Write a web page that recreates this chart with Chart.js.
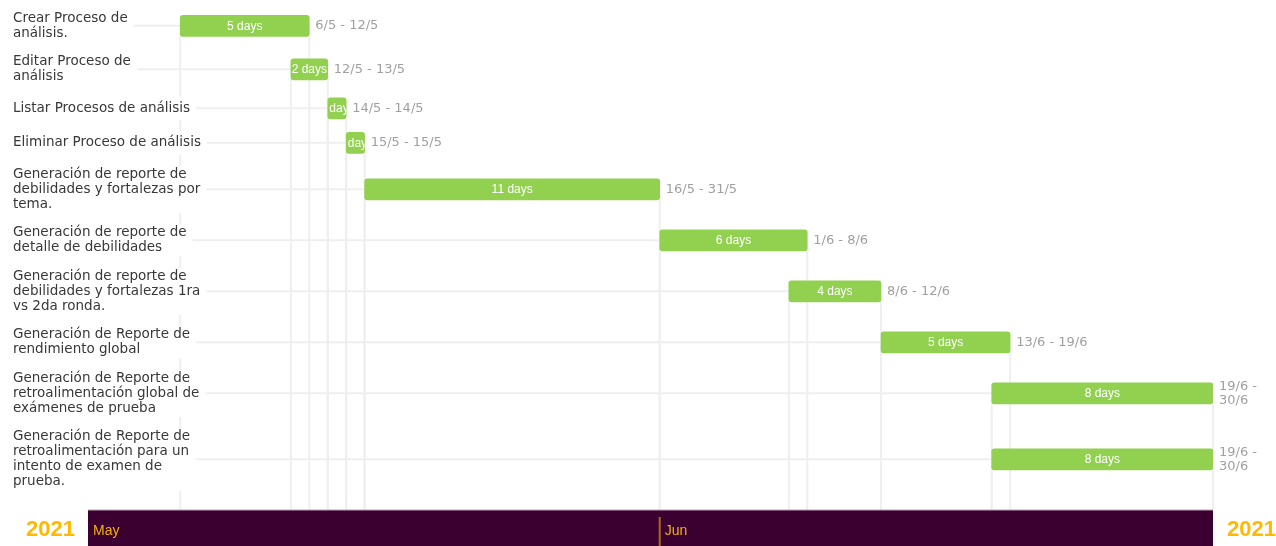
<!DOCTYPE html>
<html>
<head>
<meta charset="utf-8">
<script src="https://cdn.jsdelivr.net/npm/chart.js@4.4.0/dist/chart.umd.min.js"></script>
<style>
  html, body { margin: 0; padding: 0; background: #fff; }
  #wrap { width: 1276px; height: 546px; position: relative; }
</style>
</head>
<body>
<div id="wrap"><canvas id="gantt"></canvas></div>
<script>
// task names, already wrapped the way the chart shows them
const taskLabels = [
  ['Crear Proceso de', 'análisis.'],
  ['Editar Proceso de', 'análisis'],
  ['Listar Procesos de análisis'],
  ['Eliminar Proceso de análisis'],
  ['Generación de reporte de', 'debilidades y fortalezas por', 'tema.'],
  ['Generación de reporte de', 'detalle de debilidades'],
  ['Generación de reporte de', 'debilidades y fortalezas 1ra', 'vs 2da ronda.'],
  ['Generación de Reporte de', 'rendimiento global'],
  ['Generación de Reporte de', 'retroalimentación global de', 'exámenes de prueba'],
  ['Generación de Reporte de', 'retroalimentación para un', 'intento de examen de', 'prueba.']
];
const startDates = ['2021-05-06', '2021-05-12', '2021-05-14', '2021-05-15', '2021-05-16',
                    '2021-06-01', '2021-06-08', '2021-06-13', '2021-06-19', '2021-06-19'];
const endDates = ['2021-05-12', '2021-05-13', '2021-05-14', '2021-05-15', '2021-05-31',
                  '2021-06-08', '2021-06-12', '2021-06-19', '2021-06-30', '2021-06-30'];
const workDays = [5, 2, 1, 1, 11, 6, 4, 5, 8, 8];
const monthStarts = ['2021-05-01', '2021-06-01'];
const monthNames = ['May', 'Jun'];
const rangeStart = '2021-05-01';
const rangeEnd = '2021-07-01';
const yearLabel = '2021';

const DAY = 86400000;
const toMs = s => Date.parse(s + 'T00:00:00Z');
const shortDate = s => { const d = new Date(toMs(s)); return d.getUTCDate() + '/' + (d.getUTCMonth() + 1); };

// row layout: each row is as tall as its label block
const LINE_H = 15, ROW_GAP = 13.5, MIN_BLOCK = 21, FIRST_TOP = 10.8;
const BAND_H = 36;
const blockH = taskLabels.map(l => Math.max(l.length * LINE_H, MIN_BLOCK));
const rowCenters = [];
let rowTop = FIRST_TOP;
blockH.forEach(h => {
  rowCenters.push(rowTop + h / 2);
  rowTop += h + ROW_GAP;
});

const LABEL_FONT = '13.5px "DejaVu Sans", Verdana, sans-serif';
const DATE_FONT = '13px "DejaVu Sans", Verdana, sans-serif';
const BAR_FONT = '12px "Liberation Sans", Arial, sans-serif';
const LINE_COLOR = '#efefef';

const ganttPlugin = {
  id: 'gantt',
  beforeDatasetsDraw(chart) {
    const { ctx, scales: { x, y } } = chart;
    const bandTop = chart.chartArea.bottom;
    ctx.save();
    // connector lines and the vertical guides under each bar
    ctx.strokeStyle = LINE_COLOR;
    ctx.lineWidth = 2;
    rowCenters.forEach((c, i) => {
      const py = y.getPixelForValue(c);
      const x0 = x.getPixelForValue(toMs(startDates[i]));
      const x1 = x.getPixelForValue(toMs(endDates[i]) + DAY);
      ctx.beginPath();
      ctx.moveTo(13, py); ctx.lineTo(x0, py);
      ctx.moveTo(x0, py + 10); ctx.lineTo(x0, bandTop);
      ctx.moveTo(x1, py + 10); ctx.lineTo(x1, bandTop);
      ctx.stroke();
    });
    // task labels on white blocks
    ctx.font = LABEL_FONT;
    ctx.textBaseline = 'middle';
    ctx.textAlign = 'left';
    taskLabels.forEach((lines, i) => {
      const py = y.getPixelForValue(rowCenters[i]);
      const w = Math.max(...lines.map(t => ctx.measureText(t).width));
      ctx.fillStyle = '#fff';
      ctx.fillRect(9, py - blockH[i] / 2 - 1, w + 10, blockH[i] + 2);
      ctx.fillStyle = '#383838';
      lines.forEach((t, k) => {
        ctx.fillText(t, 13, py - (lines.length - 1) * LINE_H / 2 + k * LINE_H);
      });
    });
    ctx.restore();
  },
  afterDatasetsDraw(chart) {
    const { ctx } = chart;
    const meta = chart.getDatasetMeta(0);
    ctx.save();
    ctx.textBaseline = 'middle';
    meta.data.forEach((bar, i) => {
      const left = Math.min(bar.x, bar.base), right = Math.max(bar.x, bar.base);
      const h = bar.height;
      // duration inside the bar, clipped to it
      ctx.save();
      ctx.beginPath();
      ctx.rect(left, bar.y - h / 2, right - left, h);
      ctx.clip();
      ctx.font = BAR_FONT;
      ctx.fillStyle = '#fff';
      ctx.textAlign = 'center';
      ctx.fillText(workDays[i] + ' days', (left + right) / 2, bar.y + 0.5);
      ctx.restore();
      // date range to the right, wrapped if it runs off the canvas
      ctx.font = DATE_FONT;
      ctx.fillStyle = '#a0a0a0';
      ctx.textAlign = 'left';
      const tx = right + 6;
      const text = shortDate(startDates[i]) + ' - ' + shortDate(endDates[i]);
      const maxW = chart.width - tx;
      const lines = [];
      let cur = '';
      text.split(' ').forEach(word => {
        const test = cur ? cur + ' ' + word : word;
        if (cur && ctx.measureText(test).width > maxW) { lines.push(cur); cur = word; }
        else cur = test;
      });
      lines.push(cur);
      lines.forEach((t, k) => {
        ctx.fillText(t, tx, bar.y - (lines.length - 1) * 7 + k * 14);
      });
    });
    ctx.restore();
  },
  afterDraw(chart) {
    const { ctx, scales: { x } } = chart;
    const area = chart.chartArea;
    const b0 = area.bottom, b1 = chart.height;
    ctx.save();
    ctx.fillStyle = '#3c0030';
    ctx.fillRect(area.left, b0, area.right - area.left, b1 - b0);
    ctx.fillStyle = '#b9a3b4';
    ctx.fillRect(area.left, b0 - 0.5, area.right - area.left, 1);
    ctx.font = '14px "Liberation Sans", Arial, sans-serif';
    ctx.textBaseline = 'middle';
    ctx.textAlign = 'left';
    monthStarts.forEach((m, i) => {
      const px = x.getPixelForValue(toMs(m));
      if (i > 0) {
        ctx.strokeStyle = '#a66f16';
        ctx.lineWidth = 2;
        ctx.beginPath();
        ctx.moveTo(px, b0 + 7); ctx.lineTo(px, b1);
        ctx.stroke();
      }
      ctx.fillStyle = '#f0b010';
      ctx.fillText(monthNames[i], px + 5, (b0 + b1) / 2 + 3);
    });
    ctx.font = 'bold 22px "Liberation Sans", Arial, sans-serif';
    ctx.fillStyle = '#ffb900';
    ctx.textAlign = 'right';
    ctx.fillText(yearLabel, area.left - 13, (b0 + b1) / 2 + 2);
    ctx.textAlign = 'left';
    ctx.fillText(yearLabel, area.right + 14, (b0 + b1) / 2 + 2);
    ctx.restore();
  }
};

new Chart(document.getElementById('gantt'), {
  type: 'bar',
  data: {
    datasets: [{
      data: startDates.map((s, i) => ({
        x: [toMs(s), toMs(endDates[i]) + DAY],
        y: rowCenters[i]
      })),
      backgroundColor: '#92d050',
      borderRadius: 3,
      borderSkipped: false,
      barThickness: 21
    }]
  },
  options: {
    indexAxis: 'y',
    responsive: true,
    maintainAspectRatio: false,
    animation: false,
    layout: { padding: { left: 88, right: 63, top: 0, bottom: BAND_H } },
    scales: {
      x: { type: 'linear', min: toMs(rangeStart), max: toMs(rangeEnd), offset: false, display: false },
      y: { type: 'linear', min: 0, max: 546 - BAND_H, reverse: true, offset: false, display: false }
    },
    plugins: {
      legend: { display: false },
      tooltip: { enabled: false }
    }
  },
  plugins: [ganttPlugin]
});
</script>
</body>
</html>
